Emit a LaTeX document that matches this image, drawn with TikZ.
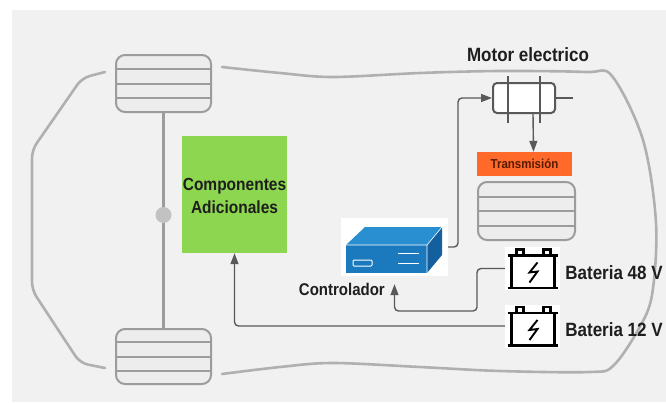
\documentclass[tikz,border=0pt]{standalone}
\usepackage{fontspec}
\usepackage{graphicx}
\setmainfont{Liberation Sans}
\usetikzlibrary{positioning,arrows.meta}

\definecolor{bggray}{HTML}{F1F1F1}
\definecolor{wheelgray}{HTML}{9C9C9C}
\definecolor{wheelfill}{HTML}{EDEDED}
\definecolor{bodygray}{HTML}{B0B0B0}
\definecolor{hubgray}{HTML}{C2C2C2}
\definecolor{wiregray}{HTML}{595959}
\definecolor{txtdark}{HTML}{1E1E1E}
\definecolor{compgreen}{HTML}{8DD64F}
\definecolor{transorange}{HTML}{FF6A2B}
\definecolor{transtext}{HTML}{5A1A00}
\definecolor{ctrlfront}{HTML}{1B79BD}
\definecolor{ctrltop}{HTML}{2A8FD0}
\definecolor{ctrlside}{HTML}{14609F}

% labels are set a little taller than the font
\newcommand\talltext[1]{\scalebox{1}[1.13]{#1}}

\begin{document}
\begin{tikzpicture}[x=1pt,y=-1pt,
  wheel/.style={draw=wheelgray,line width=2pt,fill=wheelfill,rounded corners=9pt,
    minimum width=95pt,minimum height=57pt,inner sep=0pt},
  wheelline/.style={wheelgray,line width=2pt},
  carbody/.style={draw=bodygray,line width=2.6pt,line cap=round},
  wire/.style={draw=wiregray,line width=1.4pt,rounded corners=4pt},
  tip/.style={-{Triangle[length=11pt,width=8pt]}},
  lbl/.style={text=txtdark,inner sep=0pt,font=\bfseries\fontsize{17}{20}\selectfont}]

  \useasboundingbox (0,0) rectangle (666,402);
  \fill[white] (0,0) rectangle (666,402);
  \fill[bggray] (12,10) rectangle (666,402);

  % car body
  \draw[carbody,rounded corners=8pt] (105,72) -- (82,78) -- (32,150) -- (32,290) -- (80,363) -- (105,368);
  \draw[carbody] plot [smooth,tension=0.55] coordinates {(222,67) (280,73) (333,77) (420,73) (500,71) (586,72)
    (612,76) (643,140) (656,223) (652,295) (638,330) (613,366) (590,372) (500,371) (420,367) (333,363) (280,367) (222,374)};

  % wheels and axle
  \node[wheel] (wheelF) at (163.5,83.5) {};
  \node[wheel,minimum height=55pt] (wheelR) at (163.5,356.5) {};
  \node[wheel,minimum width=97pt,minimum height=58pt] (gear) at (526.5,211) {};
  \foreach \w in {wheelF,wheelR,gear}
    \foreach \dy in {-14.5,0,14.5}
      \draw[wheelline] ([shift={(-47.5,\dy)}]\w.center) -- ([shift={(47.5,\dy)}]\w.center);
  \draw[wheelline,line width=2.4pt] (wheelF.south) -- (wheelR.north);
  \node[circle,fill=hubgray,minimum size=16pt,inner sep=0pt] (hub) at (163.5,215) {};

  % components
  \node[fill=compgreen,minimum width=105pt,minimum height=117pt] (comp) at (234.5,194.5) {};
  \node[lbl,font=\bfseries\fontsize{15.5}{21}\selectfont] (complbl1) at (234.5,186) {\talltext{Componentes}};
  \node[lbl,font=\bfseries\fontsize{15.5}{21}\selectfont] (complbl2) at (234.5,207) {\talltext{Adicionales}};

  \node[draw=wiregray,line width=2pt,fill=white,rounded corners=4pt,minimum width=62pt,minimum height=30pt] (motor) at (524,98) {};
  \draw[wiregray,line width=2pt] (motor.east) -- ++(17,0);
  \foreach \dx in {-16,16}
    \draw[wiregray,line width=2pt] ([shift={(\dx,-22)}]motor.center) -- ([shift={(\dx,25)}]motor.center);
  \node[lbl] (motorlbl) at (528,55) {\talltext{Motor electrico}};

  \node[fill=transorange,minimum width=95pt,minimum height=24pt,inner sep=0pt,text=transtext,
    font=\bfseries\fontsize{11.5}{12}\selectfont] (trans) at (524.5,164) {\talltext{Transmisión}};

  % controller
  \node[fill=white,minimum width=107pt,minimum height=58pt,inner sep=0pt] (ctrl) at (394.5,247) {};
  \begin{scope}[shift={(ctrl.center)}]
    \fill[ctrltop] (-48.5,-2) -- (-29.5,-20) -- (47.5,-20) -- (32.5,-2) -- cycle;
    \fill[ctrlside] (32.5,-2) -- (47.5,-20) -- (47.5,8) -- (32.5,26) -- cycle;
    \fill[ctrlfront] (-48.5,-2) rectangle (32.5,26);
    \draw[white,line width=0.6pt] (-48.5,-2) -- (32.5,-2) -- (47.5,-20) (32.5,-2) -- (32.5,26);
    \draw[white,line width=1pt,rounded corners=1pt] (-41.5,13) rectangle (-22.5,19);
    \draw[white,line width=1pt] (3.5,6) -- (24.5,6) (3.5,16) -- (24.5,16);
  \end{scope}
  \node[lbl,font=\bfseries\fontsize{15}{18}\selectfont,anchor=east] (ctrllbl) at (385,289) {\talltext{Controlador}};

  % batteries
  \node[fill=white,minimum width=55pt,minimum height=43pt,inner sep=0pt] (bat48) at (532.5,268.5) {};
  \node[fill=white,minimum width=55pt,minimum height=43pt,inner sep=0pt] (bat12) at (532.5,326) {};
  \foreach \b in {bat48,bat12}{
    \begin{scope}[shift={(\b.center)}]
      \draw[line width=2.6pt] (-21,-13) -- (-21,19) (22,-13) -- (22,19);
      \draw[line width=2.8pt] (-25,-13) -- (25,-13) (-25,19.5) -- (25,19.5);
      \draw[line width=2.2pt] (-16,-13) -- (-16,-19) -- (-9,-19) -- (-9,-13)
                              (11,-13) -- (11,-19) -- (18,-19) -- (18,-13);
      \draw[line width=1.9pt,line join=miter] (5,-6) -- (-3,4) -- (5,3) -- (-3,14);
    \end{scope}}
  \node[lbl,right=5pt of bat48,yshift=-4pt] (bat48lbl) {\talltext{Bateria 48 V}};
  \node[lbl,right=5pt of bat12,yshift=-4pt] (bat12lbl) {\talltext{Bateria 12 V}};

  % wiring
  \coordinate (k48) at (477,311);
  \coordinate (kmot) at (458,247);
  \draw[wire,tip] (bat12.west) -| (comp.south);
  \draw[wire,tip,shorten >=8pt] (bat48.west) -| (k48) -| (ctrl.south);
  \draw[wire,tip] (ctrl.east) -- (kmot) |- (motor.west);
  \draw[wire,tip] ([xshift=9pt]motor.south) -- ([xshift=9pt]trans.north);
\end{tikzpicture}
\end{document}
